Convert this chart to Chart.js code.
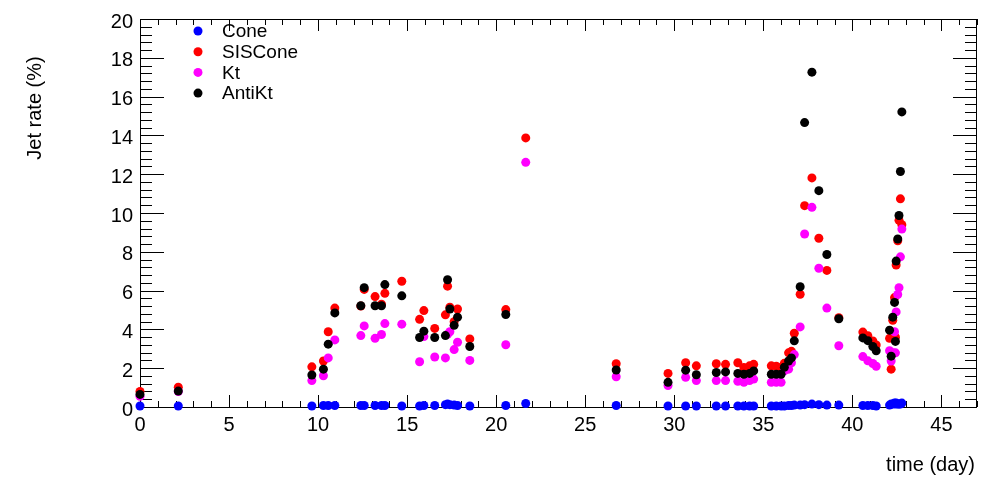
<!DOCTYPE html>
<html>
<head>
<meta charset="utf-8">
<script src="https://cdn.jsdelivr.net/npm/chart.js@4/dist/chart.umd.min.js"></script>
<style>
  body { margin: 0; background: #fff; }
  #wrap { position: relative; width: 982px; height: 477px; }
</style>
</head>
<body>
<div id="wrap"><canvas id="jetChart"></canvas></div>
<script>
// time of each run (day)
const days = [
  0, 2.15, 9.65, 10.3, 10.57, 10.94, 12.4, 12.59, 13.2, 13.56,
  13.75, 14.7, 15.7, 15.94, 16.55, 17.15, 17.27, 17.4, 17.64, 17.83,
  18.52, 20.54, 21.66, 26.74, 29.65, 30.64, 31.24, 32.36, 32.88, 33.57,
  33.91, 34.23, 34.46, 35.45, 35.73, 36.0, 36.18, 36.42, 36.58, 36.74,
  37.07, 37.32, 37.73, 38.12, 38.57, 39.24, 40.59, 40.87, 41.15, 41.34,
  42.09, 42.18, 42.27, 42.37, 42.42, 42.46, 42.55, 42.62, 42.7, 42.78
];
const cone = [
  0.05, 0.05, 0.05, 0.08, 0.08, 0.08, 0.08, 0.08, 0.08, 0.08,
  0.08, 0.05, 0.05, 0.08, 0.08, 0.12, 0.15, 0.12, 0.1, 0.08,
  0.05, 0.08, 0.18, 0.08, 0.05, 0.05, 0.05, 0.05, 0.05, 0.05,
  0.05, 0.05, 0.05, 0.05, 0.05, 0.05, 0.05, 0.08, 0.08, 0.1,
  0.1, 0.12, 0.15, 0.12, 0.1, 0.1, 0.08, 0.08, 0.08, 0.05,
  0.1, 0.15, 0.15, 0.2, 0.15, 0.2, 0.15, 0.15, 0.15, 0.2
];
const sisCone = [
  0.8, 1.02, 2.07, 2.37, 3.88, 5.1, 5.2, 6.06, 5.69, 5.3,
  5.86, 6.48, 4.52, 4.97, 4.05, 4.75, 6.23, 5.14, 4.4, 5.05,
  3.51, 5.02, 13.87, 2.23, 1.73, 2.28, 2.12, 2.23, 2.2, 2.28,
  2.03, 2.12, 2.2, 2.12, 2.1, 2.03, 2.25, 2.79, 2.87, 3.8,
  5.81, 10.38, 11.81, 8.7, 7.04, 4.6, 3.86, 3.67, 3.4, 3.2,
  3.54, 1.95, 4.47, 5.64, 3.6, 7.32, 8.57, 9.62, 10.73, 9.4
];
const kt = [
  0.55, 0.8, 1.36, 1.61, 2.53, 3.46, 3.68, 4.18, 3.54, 3.74,
  4.3, 4.27, 2.33, 3.63, 2.58, 2.53, 3.75, 3.88, 2.96, 3.34,
  2.4, 3.21, 12.61, 1.56, 1.11, 1.53, 1.36, 1.36, 1.36, 1.33,
  1.27, 1.36, 1.44, 1.27, 1.27, 1.27, 1.86, 1.95, 2.28, 2.7,
  4.13, 8.92, 10.29, 7.15, 5.1, 3.16, 2.6, 2.38, 2.24, 2.1,
  2.9, 2.37, 2.8, 3.88, 2.79, 4.9, 5.8, 6.15, 7.74, 9.17
];
const antiKt = [
  0.65, 0.82, 1.65, 1.95, 3.24, 4.85, 5.22, 6.15, 5.22, 5.22,
  6.31, 5.73, 3.58, 3.91, 3.58, 3.68, 6.56, 5.05, 4.21, 4.63,
  3.12, 4.77, null, 1.91, 1.27, 1.9, 1.66, 1.78, 1.81, 1.73,
  1.69, 1.73, 1.86, 1.69, 1.69, 1.69, 2.05, 2.37, 2.53, 3.41,
  6.2, 14.66, 17.26, 11.15, 7.86, 4.55, 3.56, 3.42, 3.12, 2.9,
  3.96, 2.62, 4.63, 5.39, 3.38, 7.52, 8.66, 9.87, 12.14, 15.21
];

const seriesNames = ["Cone", "SISCone", "Kt", "AntiKt"];
const seriesColors = ["#0000ff", "#ff0000", "#ff00ff", "#000000"];
const xTicks = [0, 5, 10, 15, 20, 25, 30, 35, 40, 45];
const yTicks = [0, 2, 4, 6, 8, 10, 12, 14, 16, 18, 20];
const xTitle = "time (day)";
const yTitle = "Jet rate (%)";

const FONT = "'Liberation Sans', Arial, sans-serif";

function toPoints(values) {
  return days
    .map((d, i) => ({ x: d, y: values[i] }))
    .filter((p) => p.y !== null);
}

// ROOT style frame: box with ticks pointing inwards on all four sides
const rootFrame = {
  id: "rootFrame",
  beforeDatasetsDraw(chart) {
    const { ctx, chartArea: a, scales } = chart;
    const x = scales.x, y = scales.y;
    ctx.save();
    ctx.strokeStyle = "#000";
    ctx.lineWidth = 1;
    ctx.strokeRect(a.left + 0.5, a.top + 0.5, a.right - a.left - 1, a.bottom - a.top);
    ctx.beginPath();
    for (let v = 0; v <= x.max; v++) {
      const px = Math.round(x.getPixelForValue(v)) + 0.5;
      const len = v % 5 === 0 ? 12 : 6;
      ctx.moveTo(px, a.bottom); ctx.lineTo(px, a.bottom - len);
      ctx.moveTo(px, a.top); ctx.lineTo(px, a.top + len);
    }
    for (let k = 0; k <= 50; k++) {
      const py = Math.round(y.getPixelForValue(k * 0.4)) + 0.5;
      const len = k % 5 === 0 ? 24 : 12;
      ctx.moveTo(a.left, py); ctx.lineTo(a.left + len, py);
      ctx.moveTo(a.right, py); ctx.lineTo(a.right - len, py);
    }
    ctx.stroke();
    ctx.restore();
  },
  afterDraw(chart) {
    const { ctx, chartArea: a } = chart;
    ctx.save();
    ctx.fillStyle = "#000";
    // axis titles
    ctx.font = "20px " + FONT;
    ctx.textBaseline = "middle";
    ctx.textAlign = "right";
    ctx.fillText(xTitle, a.right - 2, 465);
    ctx.translate(35, 108);
    ctx.rotate(-Math.PI / 2);
    ctx.textAlign = "center";
    ctx.fillText(yTitle, 0, 0);
    ctx.restore();

    // legend
    ctx.save();
    ctx.font = "19px " + FONT;
    ctx.textBaseline = "middle";
    ctx.textAlign = "left";
    chart.data.datasets.forEach((ds, i) => {
      const cy = 31 + i * 20.7;
      ctx.fillStyle = ds.backgroundColor;
      ctx.beginPath();
      ctx.arc(198, cy, 4.5, 0, Math.PI * 2);
      ctx.fill();
      ctx.fillStyle = "#000";
      ctx.fillText(ds.label, 222, cy + 1);
    });
    ctx.restore();
  },
};

const seriesValues = [cone, sisCone, kt, antiKt];

new Chart(document.getElementById("jetChart"), {
  type: "scatter",
  data: {
    datasets: seriesNames.map((name, i) => ({
      label: name,
      data: toPoints(seriesValues[i]),
      backgroundColor: seriesColors[i],
      borderWidth: 0,
      pointRadius: 4.5,
      pointHoverRadius: 4.5,
      clip: false,
      order: seriesNames.length - i,
    })),
  },
  options: {
    responsive: true,
    maintainAspectRatio: false,
    animation: false,
    layout: { padding: { top: 9, right: 5, left: 0, bottom: 0 } },
    scales: {
      x: {
        type: "linear",
        min: 0,
        max: 47,
        afterFit: (s) => { s.height = 70; },
        afterBuildTicks: (s) => { s.ticks = xTicks.map((v) => ({ value: v })); },
        grid: { display: false, drawTicks: false },
        border: { display: false },
        ticks: {
          color: "#000",
          font: { family: FONT, size: 20 },
          padding: 6,
          maxRotation: 0,
          autoSkip: false,
        },
      },
      y: {
        min: 0,
        max: 20,
        afterFit: (s) => { s.width = 140; },
        afterBuildTicks: (s) => { s.ticks = yTicks.map((v) => ({ value: v })); },
        grid: { display: false, drawTicks: false },
        border: { display: false },
        ticks: {
          color: "#000",
          font: { family: FONT, size: 20 },
          padding: 7,
          labelOffset: 3,
          autoSkip: false,
        },
      },
    },
    plugins: {
      legend: { display: false },
      tooltip: { enabled: false },
    },
  },
  plugins: [rootFrame],
});
</script>
</body>
</html>
